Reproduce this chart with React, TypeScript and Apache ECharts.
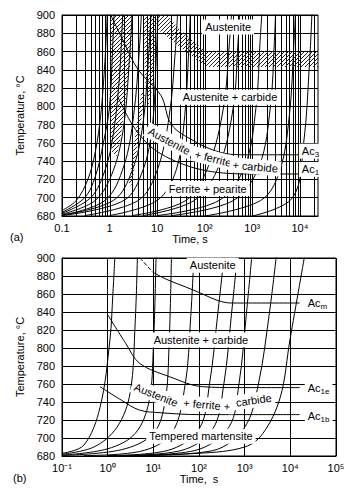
import React, { useEffect, useRef } from "react";
import * as echarts from "echarts";

const FONT = '"Liberation Sans", Arial, Helvetica, sans-serif';

// ---- axes ----
const tempMin = 680;
const tempMax = 900;
const tempStep = 20;
const timeTicksA = [0.1, 1, 10, 100, 1000, 10000];
const timeLabelsA = ["0.1", "1", "10", "10²", "10³", "10⁴"];
const timeMinA = 0.1;
const timeMaxA = 24000;
const minorMultipliers = [2, 3, 4, 5, 6, 7, 8, 9];
const timeTicksB = [0.1, 1, 10, 100, 1000, 10000, 100000];
const timeLabelsB = ["10⁻¹", "10⁰", "10¹", "10²", "10³", "10⁴", "10⁵"];
const timeMinB = 0.1;
const timeMaxB = 100000;

type P = [number, number];

// ---- panel (a): heating curves (time s, temperature °C) ----
const curveA1: P[] = [[0.1, 686], [0.2, 697], [0.35, 720], [0.5, 750], [0.65, 790], [0.8, 850], [0.9, 905]];
const curveA2: P[] = [[0.1, 684], [0.3, 700], [0.5, 723], [0.74, 760], [1.0, 800], [1.15, 860], [1.25, 905]];
const curveA3: P[] = [[0.1, 683], [0.4, 700], [0.8, 730], [1.2, 770], [1.6, 830], [1.9, 905]];
const curveA4: P[] = [[0.1, 682], [0.5, 697], [1.2, 730], [2.0, 780], [2.6, 850], [3.0, 905]];
const curveA5: P[] = [[0.1, 681], [0.8, 697], [2, 735], [3.2, 790], [4.2, 860], [4.7, 905]];
const curveA6: P[] = [[0.1, 681], [1.2, 697], [3, 730], [5, 780], [6.5, 850], [7.5, 905]];
const curveA7: P[] = [[0.1, 680.5], [2, 697], [5, 730], [8, 780], [9.5, 850], [10.5, 905]];
const curveA8: P[] = [[0.3, 680.5], [4, 697], [10, 730], [18, 790], [24, 860], [27, 905]];
const curveA9: P[] = [[1, 680.5], [10, 697], [25, 730], [38, 790], [46, 860], [50, 905]];
const curveA10: P[] = [[3, 680.5], [40, 697], [120, 735], [250, 800], [330, 870], [370, 905]];
const curveA11: P[] = [[5, 680.5], [60, 697], [200, 735], [400, 800], [500, 870], [550, 905]];
const curveA12: P[] = [[10, 680.5], [200, 697], [700, 735], [1200, 800], [1450, 870], [1600, 905]];
const curveA13: P[] = [[20, 680.5], [400, 697], [1400, 735], [2400, 800], [2900, 870], [3100, 905]];
const curveA14: P[] = [[100, 680], [1500, 697], [3700, 728], [6000, 790], [7500, 870], [8100, 905]];
const curveA15: P[] = [[1000, 680], [7000, 700], [12000, 760], [16000, 850], [18000, 905]];
const heatingA = [curveA1, curveA2, curveA3, curveA4, curveA5, curveA6, curveA7, curveA8,
  curveA9, curveA10, curveA11, curveA12, curveA13, curveA14, curveA15];

const ac3A: P[] = [[0.95, 905], [2, 870], [4, 840], [12, 812], [20, 780], [60, 762], [200, 750], [600, 747], [10000, 747]];
const ac1A: P[] = [[1.5, 810], [3, 780], [6, 760], [12, 748], [30, 738], [80, 731], [250, 727], [1000, 726], [20000, 726]];

// hatched transformation bands in (a)
const hatchA1: P[] = [[1.05, 905], [3.1, 905], [2.8, 850], [2.1, 800], [1.7, 765], [1.4, 745], [1.1, 750], [1.0, 800], [1.02, 860]];
const hatchA2: P[] = [[4.6, 815], [5.6, 815], [4.2, 770], [3.0, 715], [2.5, 712], [3.4, 765]];
const hatchA3: P[] = [[5.3, 905], [10, 905], [9, 860], [8, 820], [6.5, 800], [5.5, 830]];
const hatchA4: P[] = [[10, 905], [13, 905], [30, 884], [100, 861], [24000, 861], [24000, 843], [110, 843], [50, 856], [20, 872], [10, 885]];
const hatchesA = [hatchA1, hatchA2, hatchA3, hatchA4];

// ---- panel (b) ----
const curveB1: P[] = [[0.1, 683], [0.3, 692], [0.68, 734], [1.12, 809], [1.3, 860], [1.45, 905]];
const curveB2: P[] = [[0.1, 682], [0.5, 690], [1.6, 712], [3.1, 750], [4, 828], [4.5, 905]];
const curveB3: P[] = [[0.1, 681], [1, 688], [4, 705], [8, 740], [10, 800], [11.5, 905]];
const curveB4: P[] = [[0.1, 680.7], [2, 687], [10, 705], [18, 740], [22, 800], [25, 905]];
const curveB5: P[] = [[0.3, 680.5], [5, 685], [25, 705], [50, 760], [65, 830], [78, 905]];
const curveB6: P[] = [[1, 680.5], [20, 686], [100, 710], [170, 760], [260, 840], [360, 905]];
const curveB7: P[] = [[2, 680.5], [40, 686], [200, 710], [350, 760], [520, 840], [700, 905]];
const curveB8: P[] = [[3, 680.5], [80, 686], [450, 712], [750, 760], [1100, 840], [1450, 905]];
const curveB9: P[] = [[5, 680.5], [200, 686], [1000, 712], [2000, 760], [3500, 840], [5000, 905]];
const curveB10: P[] = [[1, 680.3], [100, 683], [1000, 690], [2500, 705], [6000, 745], [9800, 809], [21000, 905]];
const heatingB = [curveB1, curveB2, curveB3, curveB4, curveB5, curveB6, curveB7, curveB8, curveB9, curveB10];

const acmDashed: P[] = [[5.1, 900], [9.8, 884]];
const acmB: P[] = [[9.8, 884], [20, 876], [50, 868], [120, 860], [250, 853], [500, 850], [1000, 850], [16000, 850]];
const ac1eB: P[] = [[1.0, 837], [2.5, 805], [5, 783], [23, 768], [120, 757], [680, 756], [16000, 756]];
const ac1bB: P[] = [[0.68, 757], [2, 742], [5, 731], [15, 728], [100, 726], [16000, 726]];

type Lbl = { t: number; T: number; text: string; rot?: number; align?: string };
const labelsA: Lbl[] = [
  { t: 310, T: 887, text: "Austenite" },
  { t: 340, T: 810, text: "Austenite + carbide" },
  { t: 18, T: 762, text: "Austenite", rot: -28 },
  { t: 150, T: 743, text: "+ ferrite", rot: -14 },
  { t: 1150, T: 734, text: "+ carbide", rot: -5 },
  { t: 115, T: 710, text: "Ferrite + pearite" },
  { t: 9500, T: 751, text: "Ac{s|3}", align: "left" },
  { t: 9500, T: 731, text: "Ac{s|1}", align: "left" },
];
const labelsB: Lbl[] = [
  { t: 200, T: 892, text: "Austenite" },
  { t: 110, T: 809, text: "Austenite + carbide" },
  { t: 11.5, T: 748, text: "Austenite", rot: -22 },
  { t: 148, T: 737, text: "+ ferrite +", rot: -5 },
  { t: 1580, T: 742, text: "carbide", rot: 8 },
  { t: 110, T: 702, text: "Tempered martensite" },
  { t: 20700, T: 850, text: "Ac{s|m}", align: "left" },
  { t: 20700, T: 756, text: "Ac{s|1e}", align: "left" },
  { t: 20700, T: 725, text: "Ac{s|1b}", align: "left" },
];

function fmt(ticks: number[], labels: string[]) {
  return (v: number) => {
    for (let i = 0; i < ticks.length; i++) {
      if (Math.abs(Math.log10(v) - Math.log10(ticks[i])) < 1e-6) return labels[i];
    }
    return "";
  };
}

export default function App() {
  const ref = useRef<HTMLDivElement>(null);
  useEffect(() => {
    if (!ref.current) return;
    const chart = echarts.init(ref.current, undefined, { renderer: "svg" });

    const cv = document.createElement("canvas");
    cv.width = 4;
    cv.height = 4;
    const ctx = cv.getContext("2d")!;
    ctx.strokeStyle = "#222";
    ctx.lineWidth = 1;
    ctx.beginPath();
    ctx.moveTo(0, 4); ctx.lineTo(4, 0);
    ctx.moveTo(-1, 1); ctx.lineTo(1, -1);
    ctx.moveTo(3, 5); ctx.lineTo(5, 3);
    ctx.stroke();
    const pattern: any = { image: cv, repeat: "repeat" };

    const gridValsA: number[] = [];
    timeTicksA.forEach((d) => {
      if (d > timeMinA) gridValsA.push(d);
      minorMultipliers.forEach((m) => {
        if (d * m < timeMaxA) gridValsA.push(d * m);
      });
    });

    const rich = {
      s: { fontSize: 8, fontFamily: FONT, verticalAlign: "bottom", lineHeight: 8, fill: "#000" },
    };

    const labelSeries = (labels: Lbl[], idx: number) => ({
      type: "custom",
      xAxisIndex: idx,
      yAxisIndex: idx,
      silent: true,
      z: 10,
      data: labels.map((l) => [l.t, l.T]),
      renderItem: (params: any, api: any) => {
        const L = labels[params.dataIndex];
        const p = api.coord([L.t, L.T]);
        return {
          type: "text",
          x: p[0],
          y: p[1],
          rotation: ((L.rot || 0) * Math.PI) / 180,
          style: {
            text: L.text,
            fill: "#000",
            font: `11px ${FONT}`,
            align: L.align || "center",
            verticalAlign: "middle",
            lineHeight: 15,
            backgroundColor: "#fff",
            padding: [0, 3, 0, 3],
            rich,
          },
        };
      },
    });

    const curveSeries = (data: P[], idx: number, dashed = false) => ({
      type: "line",
      xAxisIndex: idx,
      yAxisIndex: idx,
      data,
      symbol: "none",
      smooth: 0.35,
      clip: true,
      silent: true,
      z: 4,
      lineStyle: { color: "#000", width: 1, type: dashed ? "dashed" : "solid" },
    });

    const xAxisBase = (idx: number, min: number, max: number, ticks: number[], labels: string[], name: string, gap: number, split: boolean) => ({
      gridIndex: idx,
      type: "log",
      logBase: 10,
      min,
      max,
      name,
      nameLocation: "middle",
      nameGap: gap,
      nameTextStyle: { fontSize: 11, color: "#000", fontFamily: FONT },
      axisLine: { show: true, lineStyle: { color: "#000", width: 1 } },
      axisTick: { show: false },
      splitLine: { show: split, lineStyle: { color: "#000", width: 1 } },
      axisLabel: { formatter: fmt(ticks, labels), color: "#000", fontSize: 11, fontFamily: FONT, margin: 6, interval: 0 },
    });

    const yAxisBase = (idx: number) => ({
      gridIndex: idx,
      type: "value",
      min: tempMin,
      max: tempMax,
      interval: tempStep,
      name: "Temperature, °C",
      nameLocation: "middle",
      nameGap: 34,
      nameTextStyle: { fontSize: 11, color: "#000", fontFamily: FONT },
      axisLine: { show: true, lineStyle: { color: "#000", width: 1 } },
      axisTick: { show: false },
      splitLine: { show: true, lineStyle: { color: "#000", width: 1 } },
      axisLabel: { color: "#000", fontSize: 11, fontFamily: FONT, margin: 7 },
    });

    const option: any = {
      animation: false,
      backgroundColor: "#fff",
      grid: [
        { left: 62, top: 15, width: 256, height: 201, show: true, borderColor: "#000", borderWidth: 1, backgroundColor: "#fff" },
        { left: 62, top: 258, width: 274, height: 198, show: true, borderColor: "#000", borderWidth: 1, backgroundColor: "#fff" },
      ],
      xAxis: [
        xAxisBase(0, timeMinA, timeMaxA, timeTicksA, timeLabelsA, "Time, s", 13, false),
        xAxisBase(1, timeMinB, timeMaxB, timeTicksB, timeLabelsB, "Time,  s", 15, true),
      ],
      yAxis: [yAxisBase(0), yAxisBase(1)],
      graphic: [
        { type: "text", left: 10, top: 231, style: { text: "(a)", font: `11px ${FONT}`, fill: "#000" } },
        { type: "text", left: 13, top: 472, style: { text: "(b)", font: `11px ${FONT}`, fill: "#000" } },
      ],
      series: [
        {
          type: "custom",
          xAxisIndex: 0,
          yAxisIndex: 0,
          silent: true,
          z: 2,
          data: gridValsA.map((v) => [v, tempMin]),
          renderItem: (params: any, api: any) => {
            const v = gridValsA[params.dataIndex];
            const a = api.coord([v, tempMin]);
            const b = api.coord([v, tempMax]);
            return {
              type: "line",
              shape: { x1: Math.round(a[0]) + 0.5, y1: a[1], x2: Math.round(b[0]) + 0.5, y2: b[1] },
              style: { stroke: "#000", lineWidth: 1 },
            };
          },
        },
        {
          type: "custom",
          xAxisIndex: 0,
          yAxisIndex: 0,
          silent: true,
          clip: true,
          z: 3,
          data: hatchesA.map((h) => h[0]),
          renderItem: (params: any, api: any) => {
            const poly = hatchesA[params.dataIndex];
            return {
              type: "polygon",
              shape: { points: poly.map((p) => api.coord(p)) },
              style: { fill: pattern, stroke: "none" },
            };
          },
        },
        ...heatingA.map((c) => curveSeries(c, 0)),
        curveSeries(ac3A, 0),
        curveSeries(ac1A, 0),
        ...heatingB.map((c) => curveSeries(c, 1)),
        curveSeries(acmDashed, 1, true),
        curveSeries(acmB, 1),
        curveSeries(ac1eB, 1),
        curveSeries(ac1bB, 1),
        labelSeries(labelsA, 0),
        labelSeries(labelsB, 1),
      ],
    };
    chart.setOption(option);
    return () => chart.dispose();
  }, []);
  return (
    <div
      ref={ref}
      style={{ position: "absolute", left: 0, top: 0, width: 354, height: 490, background: "#fff" }}
    />
  );
}
